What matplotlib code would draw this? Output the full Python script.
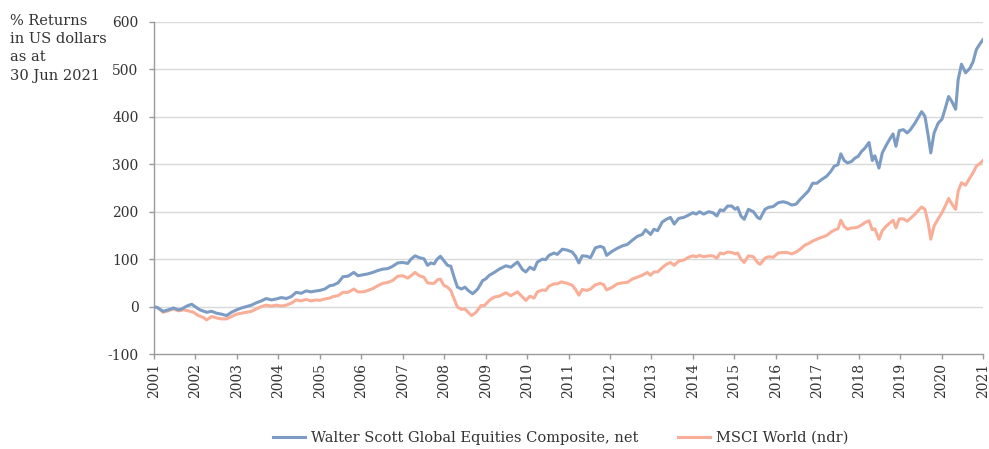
import matplotlib
matplotlib.use("Agg")
import matplotlib.pyplot as plt
from matplotlib.lines import Line2D

plt.rcParams['font.family'] = ['DejaVu Serif']

# ---- data (decimal years, % cumulative return) ----
ws_years = [
    2001.00, 2001.10, 2001.22, 2001.34, 2001.47, 2001.59, 2001.67, 2001.79, 2001.91, 2001.99,
    2002.11, 2002.27, 2002.39, 2002.51, 2002.63, 2002.75, 2002.87, 2002.99,
    2003.11, 2003.23, 2003.35, 2003.47, 2003.59, 2003.71, 2003.83, 2003.95,
    2004.07, 2004.19, 2004.31, 2004.43, 2004.55, 2004.67, 2004.79, 2004.91,
    2005.00, 2005.12, 2005.24, 2005.32, 2005.44, 2005.56, 2005.68, 2005.82, 2005.92,
    2006.04, 2006.16, 2006.28, 2006.40, 2006.52, 2006.64, 2006.76, 2006.88,
    2007.00, 2007.12, 2007.20, 2007.30, 2007.40, 2007.51, 2007.60, 2007.68, 2007.76, 2007.83, 2007.91,
    2007.99, 2008.08, 2008.16, 2008.24, 2008.32, 2008.42, 2008.50, 2008.58, 2008.69, 2008.81, 2008.93,
    2009.00, 2009.09, 2009.21, 2009.33, 2009.49, 2009.61, 2009.77, 2009.89, 2009.97,
    2010.07, 2010.17, 2010.25, 2010.37, 2010.45, 2010.53, 2010.65, 2010.73, 2010.85, 2010.97,
    2011.09, 2011.17, 2011.25, 2011.33, 2011.45, 2011.53, 2011.65, 2011.77, 2011.85, 2011.92,
    2012.06, 2012.18, 2012.30, 2012.42, 2012.54, 2012.66, 2012.78, 2012.86, 2012.98, 2013.06,
    2013.15, 2013.26, 2013.36, 2013.46, 2013.55, 2013.66, 2013.78, 2013.90,
    2014.00, 2014.08, 2014.16, 2014.26, 2014.38, 2014.48, 2014.58, 2014.66, 2014.74, 2014.84, 2014.94,
    2015.02, 2015.08, 2015.16, 2015.24, 2015.34, 2015.46, 2015.56, 2015.62, 2015.74, 2015.82, 2015.94,
    2016.06, 2016.18, 2016.27, 2016.39, 2016.49, 2016.59, 2016.71, 2016.79, 2016.89, 2016.99, 2017.11,
    2017.23, 2017.33, 2017.41, 2017.50, 2017.57, 2017.65, 2017.73, 2017.83, 2017.91, 2017.99,
    2018.07, 2018.15, 2018.25, 2018.33, 2018.39, 2018.49, 2018.57, 2018.67, 2018.75, 2018.83, 2018.90, 2018.98,
    2019.08, 2019.17, 2019.25, 2019.36, 2019.44, 2019.52, 2019.60, 2019.68, 2019.74, 2019.82, 2019.92,
    2020.01, 2020.09, 2020.17, 2020.25, 2020.34, 2020.40, 2020.48, 2020.58, 2020.68, 2020.76, 2020.84, 2020.92,
    2021.00,
]
ws_values = [
    0, -3, -10, -7, -3, -7, -5, 1, 5, 0,
    -7, -12, -10, -14, -16, -19, -12, -7,
    -3, 0, 3, 8, 12, 17, 14, 16,
    19, 17, 21, 30, 28, 33, 31, 33,
    34, 37, 44, 45, 50, 63, 64, 72, 65,
    67, 69, 72, 76, 79, 80, 85, 92,
    93, 91, 100, 107, 103, 101, 87, 92, 90, 100, 106,
    97, 87, 85, 62, 41, 37, 41, 34, 27, 37, 55,
    58, 66, 72, 79, 86, 83, 94, 78, 73,
    83, 78, 94, 100, 99, 108, 113, 110, 121, 119,
    115, 106, 92, 107, 106, 103, 124, 127, 124, 108,
    117, 123, 128, 131, 140, 148, 152, 162, 152, 163,
    160, 178, 184, 188, 174, 186, 188, 193,
    198, 195, 200, 195, 200, 198, 191, 204, 202, 212, 212,
    205, 209, 191, 184, 205, 200, 188, 185, 205, 209, 211,
    219, 221, 219, 214, 216, 226, 237, 244, 260, 260, 268,
    275, 285, 296, 299, 322, 308, 303, 306, 313, 317,
    327, 334, 346, 308, 318, 292, 324, 341, 353, 364, 338, 371,
    373, 366, 373, 387, 399, 411, 401, 359, 324, 366, 387,
    395, 418, 443, 432, 416, 478, 511, 493, 502, 516, 542, 553,
    563,
]

msci_years = [
    2001.00, 2001.10, 2001.22, 2001.34, 2001.47, 2001.59, 2001.71, 2001.83, 2001.95,
    2002.07, 2002.19, 2002.27, 2002.39, 2002.51, 2002.63, 2002.75, 2002.87, 2002.99,
    2003.11, 2003.23, 2003.35, 2003.47, 2003.59, 2003.71, 2003.83, 2003.95,
    2004.07, 2004.19, 2004.31, 2004.43, 2004.55, 2004.67, 2004.79, 2004.91,
    2005.00, 2005.12, 2005.24, 2005.32, 2005.44, 2005.56, 2005.68, 2005.82, 2005.92,
    2006.04, 2006.16, 2006.28, 2006.40, 2006.52, 2006.64, 2006.76, 2006.88,
    2007.00, 2007.12, 2007.20, 2007.30, 2007.40, 2007.51, 2007.60, 2007.68, 2007.76, 2007.85, 2007.91,
    2007.99, 2008.08, 2008.16, 2008.24, 2008.32, 2008.42, 2008.50, 2008.58, 2008.66, 2008.77, 2008.89, 2008.97,
    2009.09, 2009.21, 2009.33, 2009.49, 2009.61, 2009.77, 2009.89, 2009.97,
    2010.07, 2010.17, 2010.25, 2010.37, 2010.45, 2010.53, 2010.65, 2010.73, 2010.83, 2010.97,
    2011.09, 2011.17, 2011.25, 2011.33, 2011.45, 2011.53, 2011.65, 2011.77, 2011.85, 2011.92,
    2012.06, 2012.18, 2012.30, 2012.42, 2012.54, 2012.66, 2012.78, 2012.90, 2012.98, 2013.06,
    2013.15, 2013.26, 2013.36, 2013.46, 2013.55, 2013.66, 2013.78, 2013.90,
    2014.00, 2014.08, 2014.16, 2014.26, 2014.38, 2014.48, 2014.58, 2014.66, 2014.74, 2014.84, 2014.94,
    2015.02, 2015.08, 2015.16, 2015.24, 2015.34, 2015.46, 2015.56, 2015.62, 2015.74, 2015.82, 2015.94,
    2016.06, 2016.18, 2016.27, 2016.39, 2016.49, 2016.59, 2016.71, 2016.79, 2016.89, 2016.99, 2017.11,
    2017.23, 2017.33, 2017.41, 2017.50, 2017.57, 2017.65, 2017.73, 2017.83, 2017.91, 2017.99,
    2018.07, 2018.15, 2018.25, 2018.33, 2018.39, 2018.49, 2018.57, 2018.67, 2018.75, 2018.83, 2018.90, 2018.98,
    2019.08, 2019.17, 2019.25, 2019.36, 2019.44, 2019.52, 2019.60, 2019.68, 2019.74, 2019.82, 2019.92,
    2020.01, 2020.09, 2020.17, 2020.25, 2020.34, 2020.40, 2020.48, 2020.58, 2020.68, 2020.76, 2020.84, 2020.92,
    2021.00,
]
msci_values = [
    0, -3, -12, -9, -5, -9, -7, -9, -12,
    -19, -23, -28, -21, -24, -26, -26, -21, -16,
    -14, -12, -10, -5, 0, 3, 1, 3,
    1, 3, 7, 14, 12, 15, 12, 14,
    13, 16, 18, 21, 23, 30, 30, 37, 31,
    31, 34, 38, 44, 49, 51, 55, 64,
    65, 60, 65, 72, 65, 62, 50, 49, 49, 57, 58,
    45, 41, 34, 16, -1, -6, -5, -12, -19, -12, 2, 2,
    13, 20, 22, 29, 23, 31, 20, 13,
    22, 18, 31, 35, 34, 43, 48, 48, 52, 49,
    45, 36, 24, 36, 34, 37, 46, 49, 46, 35,
    41, 48, 50, 51, 58, 62, 66, 72, 66, 73,
    73, 82, 89, 93, 87, 96, 98, 104,
    107, 105, 108, 105, 107, 107, 102, 113, 111, 115, 114,
    111, 113, 100, 93, 107, 105, 93, 89, 102, 105, 104,
    113, 114, 114, 111, 115, 121, 130, 133, 138, 142, 146,
    150, 157, 161, 164, 182, 169, 163, 166, 166, 168,
    172, 177, 181, 162, 164, 142, 160, 170, 176, 182, 166, 185,
    185, 180, 186, 195, 203, 210, 205, 175, 142, 170, 185,
    198, 212, 228, 216, 205, 243, 261, 256, 271, 282, 296, 301,
    308,
]

year_ticks = list(range(2001, 2022))
y_ticks = [-100, 0, 100, 200, 300, 400, 500, 600]

series_names = ["Walter Scott Global Equities Composite, net", "MSCI World (ndr)"]
ws_color = "#7c9cc4"
msci_color = "#f9ae98"
text_color = "#333333"
axis_color = "#9a9a9a"
grid_color = "#d9d9d9"

fig = plt.figure(figsize=(9.89, 4.49), dpi=100)
ax = fig.add_axes([154 / 989, 1 - 354 / 449, (983 - 154) / 989, (354 - 22) / 449])

ax.plot(msci_years, msci_values, color=msci_color, lw=2.2, solid_joinstyle="round", zorder=3)
ax.plot(ws_years, ws_values, color=ws_color, lw=2.2, solid_joinstyle="round", zorder=4)

ax.set_xlim(2001, 2021)
ax.set_ylim(-100, 600)
ax.set_yticks(y_ticks)
ax.set_yticklabels([str(v) for v in y_ticks])
ax.set_xticks(year_ticks)
ax.set_xticklabels([str(y) for y in year_ticks], rotation=90)

for v in y_ticks[1:]:
    ax.axhline(v, color=grid_color, lw=1.0, zorder=1)

for s in ["top", "right"]:
    ax.spines[s].set_visible(False)
for s in ["left", "bottom"]:
    ax.spines[s].set_color(axis_color)
    ax.spines[s].set_linewidth(1.0)

ax.tick_params(axis="both", colors=axis_color, length=3.6, width=1.0,
               labelcolor=text_color, labelsize=10)
ax.tick_params(axis="y", pad=7.5)
ax.tick_params(axis="x", pad=3)

fig.text(10 / 989, 1 - 14 / 449, "% Returns\nin US dollars\nas at\n30 Jun 2021",
         ha="left", va="top", fontsize=10.5, color=text_color, linespacing=1.38)

handles = [Line2D([], [], color=ws_color, lw=2.2), Line2D([], [], color=msci_color, lw=2.2)]
fig.legend(handles, series_names, loc="center", bbox_to_anchor=(0.567, 1 - 438 / 449),
           ncol=2, frameon=False, fontsize=10.5, handlelength=2.2, handletextpad=0.4,
           columnspacing=2.7, labelcolor=text_color)

fig.savefig("out.png", dpi=100)
